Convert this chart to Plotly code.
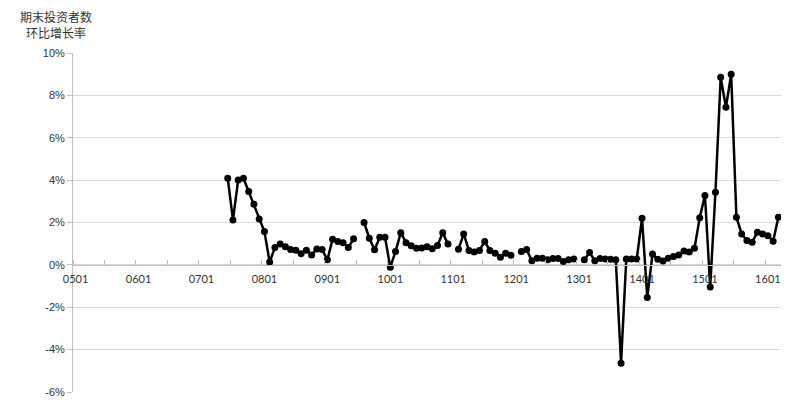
import plotly.graph_objects as go

# Categories: monthly labels YYMM from 0501 to 1603
months = [f"{y:02d}{m:02d}" for y in range(5, 17) for m in range(1, 13)][:135]

# Month-over-month growth of investors at period end (%)
growth = [None] * 29 + [
    4.09, 2.12, 4.01, 4.09, 3.46, 2.86, 2.17, 1.57, 0.13, 0.82,
    0.98, 0.86, 0.72, 0.69, 0.53, 0.69, 0.47, 0.75, 0.72, 0.24,
    1.21, 1.10, 1.05, 0.82, 1.23, None, 2.00, 1.26, 0.71, 1.30,
    1.30, -0.11, 0.63, 1.52, 1.05, 0.90, 0.78, 0.80, 0.85, 0.76,
    0.92, 1.52, 0.98, None, 0.74, 1.46, 0.68, 0.61, 0.68, 1.10,
    0.68, 0.55, 0.36, 0.55, 0.46, None, 0.63, 0.72, 0.19, 0.31,
    0.31, 0.24, 0.30, 0.30, 0.16, 0.24, 0.28, None, 0.24, 0.58,
    0.20, 0.30, 0.28, 0.27, 0.24, -4.64, 0.28, 0.28, 0.28, 2.20,
    -1.54, 0.51, 0.26, 0.18, 0.31, 0.39, 0.47, 0.66, 0.61, 0.78,
    2.22, 3.28, -1.05, 3.43, 8.85, 7.44, 9.00, 2.25, 1.46, 1.15,
    1.07, 1.54, 1.46, 1.38, 1.12, 2.25,
]

y_ticks = [-6, -4, -2, 0, 2, 4, 6, 8, 10]
label_every = 12

idx = list(range(len(months)))

W, H = 801, 404
ML, MR, MT, MB = 73, 20, 53, 12
ymin, ymax = -6, 10

fig = go.Figure()
fig.add_trace(go.Scatter(
    x=idx, y=growth, mode="lines+markers",
    line=dict(color="black", width=2.5),
    marker=dict(color="black", size=7),
    connectgaps=False, hoverinfo="skip",
))

fig.update_layout(
    template="none",
    width=W, height=H,
    margin=dict(l=ML, r=MR, t=MT, b=MB, pad=0),
    paper_bgcolor="white", plot_bgcolor="white",
    showlegend=False,
    xaxis=dict(
        automargin=False,
        range=[-0.5, len(months) - 0.5],
        tickmode="array",
        tickvals=idx[::label_every],
        ticktext=months[::label_every],
        ticks="",
        ticklabelstandoff=4,
        showgrid=False, zeroline=False,
        showline=True, linecolor="#bfbfbf", linewidth=1,
        anchor="free", position=(0 - ymin) / (ymax - ymin),
        tickfont=dict(family="Lato", size=11, color="#333333"),
        minor=dict(tickmode="linear", tick0=-0.5, dtick=6,
                   ticks="inside", ticklen=5, tickcolor="#bfbfbf",
                   showgrid=False),
    ),
    yaxis=dict(
        automargin=False,
        range=[ymin, ymax],
        tickmode="array", tickvals=y_ticks,
        ticktext=[f"{v}%" for v in y_ticks],
        showgrid=True, gridcolor="#d9d9d9", gridwidth=1,
        zeroline=False,
        showline=True, linecolor="#bfbfbf", linewidth=1,
        ticks="outside", ticklen=5, tickcolor="#bfbfbf",
        tickfont=dict(family="Liberation Sans", size=11, color="#333333"),
    ),
)

plot_w = W - ML - MR
plot_h = H - MT - MB
fig.add_annotation(
    text="期末投资者数<br>环比增长率",
    xref="paper", yref="paper",
    x=(56 - ML) / plot_w, y=(H - MB - 6) / plot_h,
    xanchor="center", yanchor="top", align="center",
    showarrow=False,
    font=dict(family="Noto Sans CJK SC", size=12, color="#333333"),
)

fig.write_html("out.html",
               config={"displayModeBar": False},
               post_script="document.body.style.margin='0';document.body.style.overflow='hidden';")
